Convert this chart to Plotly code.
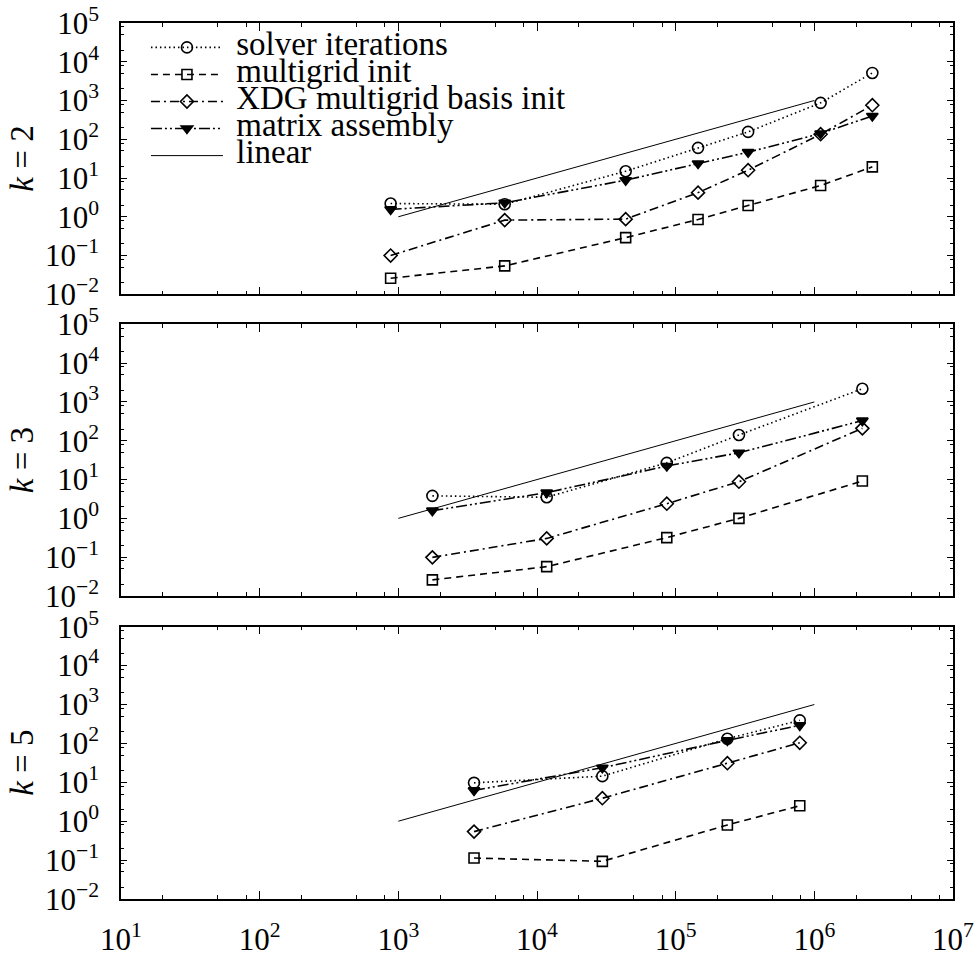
import plotly.graph_objects as go

# ---------------- data ----------------
series_names = ["solver iterations", "multigrid init", "XDG multigrid basis init",
                "matrix assembly", "linear"]

dofs_k2 = [880, 5850, 43600, 145000, 333000, 1.11e6, 2.62e6]
solver_k2 = [2.2, 2.1, 15, 60, 155, 870, 5150]
mginit_k2 = [0.026, 0.054, 0.29, 0.85, 1.96, 6.4, 19.4]
xdg_k2 = [0.10, 0.82, 0.87, 4.2, 15.9, 135, 755]
assembly_k2 = [1.55, 2.3, 8.8, 23.7, 46.5, 141, 400]

dofs_k3 = [1760, 11750, 86300, 286000, 2.22e6]
solver_k3 = [3.8, 3.5, 27, 141, 2190]
mginit_k3 = [0.026, 0.057, 0.32, 1.0, 9.2]
xdg_k3 = [0.099, 0.305, 2.39, 8.8, 209]
assembly_k3 = [1.58, 4.6, 22.3, 49, 330]

dofs_k5 = [3515, 29600, 236000, 785000]
solver_k5 = [9.7, 14.4, 132, 392]
mginit_k5 = [0.113, 0.093, 0.80, 2.5]
xdg_k5 = [0.54, 3.9, 31, 104]
assembly_k5 = [6.2, 23.7, 120, 292]

linear_x = [1e3, 1e6]
linear_y = [1, 1e3]

panel_labels = ["<i>k</i> = 2", "<i>k</i> = 3", "<i>k</i> = 5"]

x_tickvals = [1e1, 1e2, 1e3, 1e4, 1e5, 1e6, 1e7]
x_ticktext = ["10<sup>1</sup>", "10<sup>2</sup>", "10<sup>3</sup>", "10<sup>4</sup>",
              "10<sup>5</sup>", "10<sup>6</sup>", "10<sup>7</sup>"]
y_tickvals = [1e-2, 1e-1, 1e0, 1e1, 1e2, 1e3, 1e4, 1e5]
y_ticktext = ["10<sup>\u22122</sup>", "10<sup>\u22121</sup>", "10<sup>0</sup>", "10<sup>1</sup>",
              "10<sup>2</sup>", "10<sup>3</sup>", "10<sup>4</sup>", "10<sup>5</sup>"]
minor_mults = [2, 5, 8]

# ---------------- styling ----------------
FONT = "Liberation Serif"
styles = [
    dict(dash="1.5px,3px", symbol="circle-open", size=11),
    dict(dash="7px,5px", symbol="square-open", size=10),
    dict(dash="9px,4px,2px,4px", symbol="diamond-open", size=10),
    dict(dash="11px,3px,2px,3px,2px,3px", symbol="triangle-down", size=10),
]

panels = [
    (dofs_k2, [solver_k2, mginit_k2, xdg_k2, assembly_k2]),
    (dofs_k3, [solver_k3, mginit_k3, xdg_k3, assembly_k3]),
    (dofs_k5, [solver_k5, mginit_k5, xdg_k5, assembly_k5]),
]


def legend_name(s):
    return f'<span style="font-size:33px">\u00a0{s}</span>'


fig = go.Figure()
for p, (dofs, ys) in enumerate(panels):
    xa = "x" if p == 0 else f"x{p+1}"
    ya = "y" if p == 0 else f"y{p+1}"
    for i, yv in enumerate(ys):
        st = styles[i]
        fig.add_trace(go.Scatter(
            x=dofs, y=yv, mode="lines+markers", xaxis=xa, yaxis=ya,
            name=legend_name(series_names[i]),
            showlegend=(p == 0),
            line=dict(color="black", width=1.6, dash=st["dash"]),
            marker=dict(symbol=st["symbol"], size=st["size"], color="black",
                        line=dict(color="black", width=1.6)),
        ))
    fig.add_trace(go.Scatter(
        x=linear_x, y=linear_y, mode="lines", xaxis=xa, yaxis=ya,
        name=legend_name(series_names[4]),
        showlegend=(p == 0),
        line=dict(color="black", width=1.0),
    ))

minor_x = [m * 10 ** e for e in range(1, 7) for m in minor_mults]
minor_y = [m * 10 ** e for e in range(-2, 5) for m in minor_mults]

domains = [[0.6903, 1.0], [0.3459, 0.6560], [0.0, 0.3108]]

layout = dict(
    width=974, height=954,
    margin=dict(l=121, r=21, t=23, b=55, pad=0, autoexpand=False),
    paper_bgcolor="white", plot_bgcolor="white",
    font=dict(family=FONT, size=30, color="black"),
    legend=dict(x=0.03, y=0.9933, xanchor="left", yanchor="top",
                bgcolor="rgba(0,0,0,0)", borderwidth=0,
                font=dict(family=FONT, size=18.5, color="black"),
                itemwidth=72, tracegroupgap=0),
    annotations=[],
)
for p in range(3):
    xk = "xaxis" if p == 0 else f"xaxis{p+1}"
    yk = "yaxis" if p == 0 else f"yaxis{p+1}"
    ya = "y" if p == 0 else f"y{p+1}"
    xa = "x" if p == 0 else f"x{p+1}"
    layout[xk] = dict(
        type="log", range=[1, 7], anchor=ya, domain=[0, 1],
        showline=True, linecolor="black", linewidth=1.5, mirror="ticks",
        ticks="inside", ticklen=8, tickwidth=1.2, tickcolor="black",
        tickmode="array", tickvals=x_tickvals, ticktext=x_ticktext,
        showticklabels=(p == 2), showgrid=False, zeroline=False,
        automargin=False, ticklabeloverflow="allow",
        tickfont=dict(family=FONT, size=31), ticklabelstandoff=12,
        minor=dict(tickvals=minor_x, ticks="inside", ticklen=4, tickwidth=1.2,
                   tickcolor="black", showgrid=False),
    )
    layout[yk] = dict(
        type="log", range=[-2, 5], anchor=xa, domain=domains[p],
        showline=True, linecolor="black", linewidth=1.5, mirror="ticks",
        ticks="inside", ticklen=6, tickwidth=1.2, tickcolor="black",
        tickmode="array", tickvals=y_tickvals, ticktext=y_ticktext,
        showgrid=False, zeroline=False,
        automargin=False, ticklabeloverflow="allow",
        tickfont=dict(family=FONT, size=31), ticklabelstandoff=14,
        minor=dict(tickvals=minor_y, ticks="inside", ticklen=3.5, tickwidth=1.2,
                   tickcolor="black", showgrid=False),
    )
    layout["annotations"].append(dict(
        text=panel_labels[p], textangle=-90, xref="paper", yref="paper",
        x=-0.119, y=(domains[p][0] + domains[p][1]) / 2,
        xanchor="center", yanchor="middle", showarrow=False,
        font=dict(family=FONT, size=33, color="black"),
    ))

fig.update_layout(**layout)
fig.write_html("out.html")
